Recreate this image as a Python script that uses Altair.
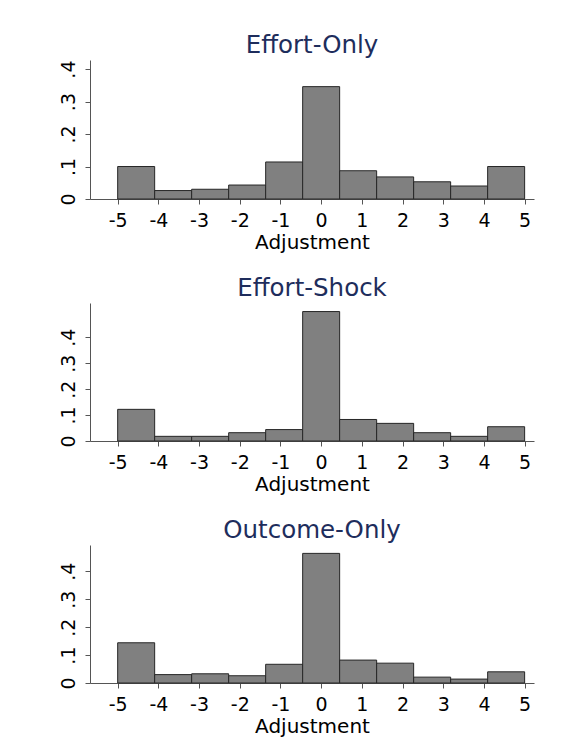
import altair as alt
import pandas as pd

# ---- data ----
panel_titles = ["Effort-Only", "Effort-Shock", "Outcome-Only"]
effort_only = [0.100, 0.026, 0.030, 0.043, 0.114, 0.346, 0.087, 0.068, 0.053, 0.040, 0.100]
effort_shock = [0.122, 0.018, 0.018, 0.032, 0.044, 0.499, 0.083, 0.068, 0.032, 0.018, 0.055]
outcome_only = [0.144, 0.030, 0.033, 0.026, 0.067, 0.464, 0.082, 0.071, 0.021, 0.014, 0.040]
x_ticks = [-5, -4, -3, -2, -1, 0, 1, 2, 3, 4, 5]
y_ticks = [0, 0.1, 0.2, 0.3, 0.4]
y_tops = [0.428, 0.532, 0.494]
bin_start, bin_end, n_bins = -5.0, 5.0, 11
x_domain = [-5.68, 5.23]

FONT = "DejaVu Sans"
TITLE_COLOR = "#1e2d5c"
AXIS_COLOR = "#555555"


def panel(title, values, ytop, h):
    width = (bin_end - bin_start) / n_bins
    df = pd.DataFrame({
        "lo": [bin_start + i * width for i in range(n_bins)],
        "hi": [bin_start + (i + 1) * width for i in range(n_bins)],
        "frac": values,
        "base": [0.0] * n_bins,
    })
    return (
        alt.Chart(df)
        .mark_rect(fill="#808080", stroke="#262626", strokeWidth=1, opacity=1)
        .encode(
            x=alt.X(
                "lo:Q",
                scale=alt.Scale(domain=x_domain, nice=False, zero=False),
                axis=alt.Axis(
                    values=x_ticks, title="Adjustment",
                    labelExpr="'' + datum.value",
                    labelFontSize=19, titleFontSize=20, labelPadding=7,
                    titlePadding=2, tickSize=5, grid=False,
                    labelFlush=False, labelOverlap=False,
                ),
            ),
            x2="hi:Q",
            y=alt.Y(
                "frac:Q",
                scale=alt.Scale(domain=[0, ytop], nice=False, zero=True),
                axis=alt.Axis(
                    values=y_ticks, title=None,
                    labelExpr="datum.value == 0 ? '0' : '.' + round(datum.value * 10)",
                    labelAngle=270, labelAlign="center", labelBaseline="alphabetic",
                    labelFontSize=19, labelPadding=11, tickSize=5, grid=False,
                    labelFlush=False, labelOverlap=False,
                ),
            ),
            y2="base:Q",
        )
        .properties(
            width=444, height=h,
            title=alt.TitleParams(
                text=title, fontSize=24.5, font=FONT, fontWeight="normal",
                color=TITLE_COLOR, anchor="middle", baseline="alphabetic",
                offset=-17, frame="group",
            ),
        )
    )


chart = (
    alt.vconcat(
        panel(panel_titles[0], effort_only, y_tops[0], 139),
        panel(panel_titles[1], effort_shock, y_tops[1], 138),
        panel(panel_titles[2], outcome_only, y_tops[2], 138),
        spacing=23,
    )
    .properties(padding={"left": 50, "top": 24, "right": 5, "bottom": 5}, background="white")
    .configure_view(strokeWidth=0)
    .configure_axis(
        labelFont=FONT, titleFont=FONT, labelColor="#000000", titleColor="#000000",
        domainColor=AXIS_COLOR, tickColor=AXIS_COLOR, domainWidth=1, tickWidth=1,
        titleFontWeight="normal",
    )
)

chart.save("out.html", embed_options={"renderer": "svg", "actions": False})
